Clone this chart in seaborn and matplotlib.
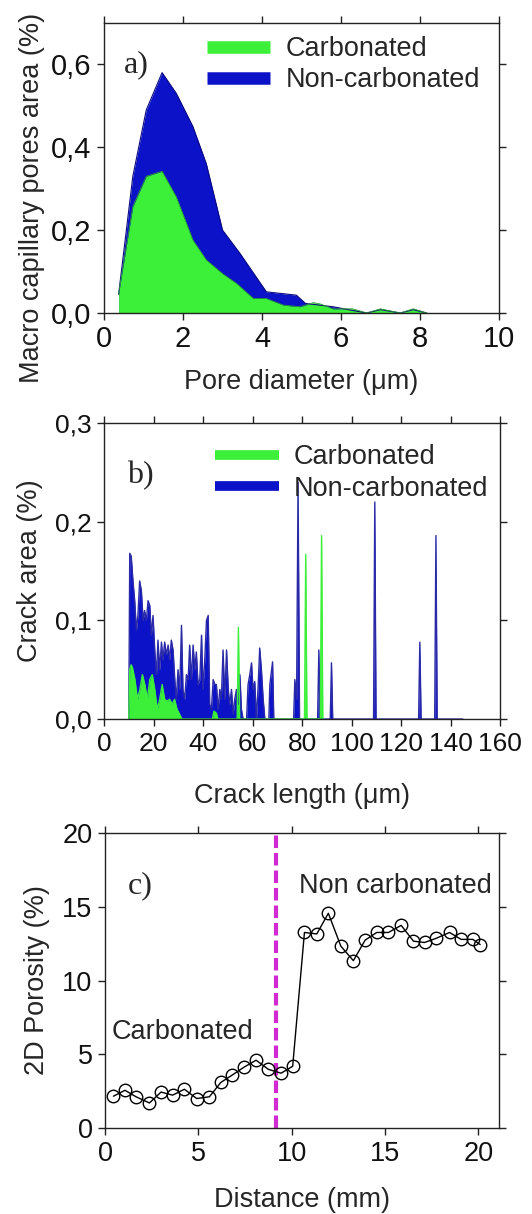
import matplotlib
matplotlib.use("Agg")
import matplotlib.pyplot as plt
from matplotlib.lines import Line2D
import pandas as pd
import seaborn as sns

# ---------------- a) macro capillary pore size distribution ----------------
pore_d_nc = [0.37, 0.73, 1.07, 1.47, 1.83, 2.25, 2.59, 3.00, 3.44, 4.11, 4.87,
             5.10, 5.80, 6.30, 6.65, 7.00, 7.50, 7.83, 8.17]
pore_area_nc = [0.045, 0.330, 0.490, 0.580, 0.530, 0.450, 0.360, 0.200, 0.144,
                0.051, 0.043, 0.023, 0.015, 0.006, 0.000, 0.008, 0.000, 0.008, 0.000]
pore_d_c = [0.37, 0.73, 1.07, 1.47, 1.83, 2.25, 2.59, 3.00, 3.36, 3.78, 4.11,
            4.54, 4.96, 5.30, 5.47, 5.80, 6.30, 6.65, 7.00, 7.50, 7.83, 8.17]
pore_area_c = [0.047, 0.257, 0.330, 0.342, 0.280, 0.176, 0.128, 0.095, 0.071,
               0.035, 0.035, 0.019, 0.015, 0.025, 0.022, 0.010, 0.010, 0.000,
               0.010, 0.000, 0.010, 0.000]

# ---------------- b) crack length distribution ----------------
crack_len_nc = [10.0, 10.4, 11.0, 11.7, 12.4, 13.1, 13.7, 14.4, 15.1, 15.8, 16.4,
                17.1, 17.8, 18.5, 19.1, 19.8, 20.5, 21.2, 21.8, 22.5, 23.2, 23.8,
                24.5, 25.2, 25.9, 26.5, 27.2, 27.9, 28.6, 29.2, 29.9, 30.6, 31.3,
                31.9, 32.6, 33.3, 34.0, 34.6, 35.3, 36.0, 36.7, 37.3, 38.0, 38.7,
                39.4, 40.0, 40.7, 41.4, 42.1, 42.7, 43.4, 44.1, 44.8, 45.4, 46.1,
                46.8, 47.4, 48.1, 48.8, 49.5, 50.2, 50.8, 51.5, 52.2, 52.8, 53.5,
                54.2, 54.9, 55.5, 56.2, 57.6, 58.2, 58.9, 59.6, 60.2, 60.9, 61.6,
                62.3, 62.9, 63.6, 64.3, 65.0, 66.6, 67.0, 68.1, 68.6, 76.6, 77.1,
                77.8, 78.4, 79.0, 86.3, 86.8, 87.3, 91.4, 91.9, 92.4, 108.9, 109.4,
                109.9, 127.1, 127.6, 128.1, 133.6, 134.1, 134.6, 145.0]
crack_area_nc = [0.000, 0.168, 0.165, 0.140, 0.120, 0.090, 0.105, 0.140, 0.130,
                 0.100, 0.110, 0.100, 0.120, 0.115, 0.085, 0.105, 0.070, 0.045,
                 0.080, 0.050, 0.078, 0.060, 0.078, 0.065, 0.075, 0.060, 0.080,
                 0.070, 0.040, 0.020, 0.050, 0.030, 0.095, 0.030, 0.020, 0.045,
                 0.040, 0.075, 0.040, 0.075, 0.050, 0.068, 0.035, 0.040, 0.085,
                 0.030, 0.060, 0.100, 0.105, 0.015, 0.010, 0.040, 0.035, 0.035,
                 0.010, 0.030, 0.020, 0.070, 0.020, 0.070, 0.030, 0.015, 0.030,
                 0.005, 0.020, 0.030, 0.015, 0.045, 0.010, 0.000, 0.000, 0.035,
                 0.045, 0.057, 0.030, 0.038, 0.000, 0.035, 0.072, 0.050, 0.020,
                 0.000, 0.000, 0.035, 0.058, 0.000, 0.000, 0.040, 0.020, 0.240,
                 0.000, 0.000, 0.070, 0.000, 0.000, 0.057, 0.000, 0.000, 0.220,
                 0.000, 0.000, 0.078, 0.000, 0.000, 0.186, 0.000, 0.000]
crack_len_c = [10.0, 10.4, 11.0, 11.5, 12.5, 13.5, 14.5, 15.5, 16.5, 17.5, 18.5,
               19.5, 20.5, 21.5, 22.5, 23.5, 24.5, 25.5, 26.5, 27.5, 28.5, 29.5,
               30.5, 31.5, 43.8, 44.4, 45.4, 46.0, 53.8, 54.3, 54.8, 81.0, 81.5,
               82.0, 87.4, 87.9, 88.4]
crack_area_c = [0.000, 0.050, 0.055, 0.052, 0.040, 0.020, 0.030, 0.045, 0.035,
                0.020, 0.040, 0.045, 0.030, 0.010, 0.020, 0.035, 0.020, 0.018,
                0.020, 0.015, 0.020, 0.010, 0.005, 0.000, 0.000, 0.008, 0.006,
                0.000, 0.000, 0.093, 0.000, 0.000, 0.167, 0.000, 0.000, 0.186,
                0.000]

# ---------------- c) 2D porosity profile ----------------
distance_mm = [0.45, 1.07, 1.66, 2.38, 3.00, 3.62, 4.25, 4.91, 5.59, 6.20, 6.82,
               7.46, 8.09, 8.75, 9.43, 10.05, 10.68, 11.34, 11.96, 12.63, 13.30,
               13.93, 14.55, 15.18, 15.86, 16.52, 17.11, 17.73, 18.45, 19.07,
               19.70, 20.09]
porosity_pct = [2.16, 2.56, 2.12, 1.70, 2.44, 2.23, 2.63, 2.00, 2.12, 3.09, 3.60,
                4.14, 4.60, 3.98, 3.72, 4.19, 13.26, 13.16, 14.56, 12.33, 11.35,
                12.74, 13.26, 13.26, 13.74, 12.67, 12.58, 12.86, 13.26, 12.79,
                12.79, 12.44]
carbonation_front_mm = 9.16

series_labels = ["Carbonated", "Non-carbonated"]
GREEN = "#3cf03a"
BLUE = "#0c12c8"

sns.set_theme(style="ticks")
plt.rcParams["font.family"] = ["Liberation Sans", "DejaVu Sans"]
plt.rcParams["axes.edgecolor"] = "#222222"
plt.rcParams["axes.linewidth"] = 1.0
plt.rcParams["xtick.color"] = "#222222"
plt.rcParams["ytick.color"] = "#222222"
plt.rcParams["xtick.labelcolor"] = "#111111"
plt.rcParams["ytick.labelcolor"] = "#111111"

fig = plt.figure(figsize=(5.32, 12.14), dpi=100)
ax_a = fig.add_axes([0.1955, 0.7422, 0.7425, 0.2389])
ax_b = fig.add_axes([0.1955, 0.4077, 0.7444, 0.2438])
ax_c = fig.add_axes([0.1974, 0.0708, 0.7406, 0.2430])

SERIF = ["Liberation Serif", "DejaVu Serif"]


def style_axes(ax, tick_size):
    ax.tick_params(axis="both", which="major", direction="out", length=5,
                   width=1, labelsize=tick_size, top=True, right=True, pad=4)
    for s in ax.spines.values():
        s.set_visible(True)


def comma(values, fmt):
    return [fmt.format(v).replace(".", ",") for v in values]


# ---- panel a ----
df_a_nc = pd.DataFrame({"d": pore_d_nc, "area": pore_area_nc})
df_a_c = pd.DataFrame({"d": pore_d_c, "area": pore_area_c})
ax_a.fill_between(df_a_nc["d"], 0, df_a_nc["area"], color=BLUE, lw=0)
sns.lineplot(data=df_a_nc, x="d", y="area", ax=ax_a, color="#0a0a80", lw=0.8,
             sort=False)
ax_a.fill_between(df_a_c["d"], 0, df_a_c["area"], color=GREEN, lw=0)
sns.lineplot(data=df_a_c, x="d", y="area", ax=ax_a, color="#2a9a30", lw=0.6,
             sort=False)
ax_a.set_xlim(0, 10)
ax_a.set_ylim(0, 0.7)
ax_a.set_xticks([0, 2, 4, 6, 8, 10])
yt_a = [0.0, 0.2, 0.4, 0.6]
ax_a.set_yticks(yt_a)
ax_a.set_yticklabels(comma(yt_a, "{:.1f}"))
style_axes(ax_a, 21)
ax_a.set_xlabel("Pore diameter (μm)", fontsize=19.5, labelpad=11)
ax_a.set_ylabel("Macro capillary pores area (%)", fontsize=19.5)
ax_a.yaxis.set_label_coords(-0.15, 0.395)
ax_a.text(0.5, 0.6, "a)", fontsize=23, family=SERIF, va="center", ha="left")
handles_a = [Line2D([], [], color=GREEN, lw=9, solid_capstyle="butt"),
             Line2D([], [], color=BLUE, lw=9, solid_capstyle="butt")]
ax_a.legend(handles_a, series_labels, loc="upper left",
            bbox_to_anchor=(0.26, 0.955), frameon=False, fontsize=19.5,
            handlelength=2.35, handletextpad=0.55, labelspacing=0.2,
            borderpad=0, borderaxespad=0)

# ---- panel b ----
df_b_nc = pd.DataFrame({"len": crack_len_nc, "area": crack_area_nc})
df_b_c = pd.DataFrame({"len": crack_len_c, "area": crack_area_c})
ax_b.fill_between(df_b_nc["len"], 0, df_b_nc["area"], color=BLUE, lw=0)
sns.lineplot(data=df_b_nc, x="len", y="area", ax=ax_b, color="#2a2aa8", lw=1.0,
             sort=False)
ax_b.fill_between(df_b_c["len"], 0, df_b_c["area"], color=GREEN, lw=0)
sns.lineplot(data=df_b_c, x="len", y="area", ax=ax_b, color=GREEN, lw=1.0,
             sort=False)
ax_b.set_xlim(0, 160)
ax_b.set_ylim(0, 0.3)
ax_b.set_xticks(list(range(0, 161, 20)))
yt_b = [0.0, 0.1, 0.2, 0.3]
ax_b.set_yticks(yt_b)
ax_b.set_yticklabels(comma(yt_b, "{:.1f}"))
style_axes(ax_b, 19)
ax_b.set_xlabel("Crack length (μm)", fontsize=19.5, labelpad=20)
ax_b.set_ylabel("Crack area (%)", fontsize=19.5)
ax_b.yaxis.set_label_coords(-0.154, 0.5)
ax_b.text(9.3, 0.247, "b)", fontsize=23, family=SERIF, va="center", ha="left")
handles_b = [Line2D([], [], color=GREEN, lw=7, solid_capstyle="butt"),
             Line2D([], [], color=BLUE, lw=7, solid_capstyle="butt")]
ax_b.legend(handles_b, series_labels, loc="upper left",
            bbox_to_anchor=(0.28, 0.928), frameon=False, fontsize=19.5,
            handlelength=2.35, handletextpad=0.55, labelspacing=0.2,
            borderpad=0, borderaxespad=0)

# ---- panel c ----
df_c = pd.DataFrame({"dist": distance_mm, "por": porosity_pct})
ax_c.axvline(carbonation_front_mm, color="#d22ad2", lw=3.0, ls=(0, (3.0, 1.2)),
             zorder=1)
sns.lineplot(data=df_c, x="dist", y="por", ax=ax_c, color="black", lw=1.0,
             marker="o", markersize=9, markerfacecolor="none",
             markeredgecolor="black", markeredgewidth=1.0, sort=False, zorder=3)
ax_c.set_xlim(0, 21.1)
ax_c.set_ylim(0, 20)
ax_c.set_xticks([0, 5, 10, 15, 20])
ax_c.set_yticks([0, 5, 10, 15, 20])
style_axes(ax_c, 19.5)
ax_c.set_xlabel("Distance (mm)", fontsize=19.5, labelpad=15)
ax_c.set_ylabel("2D Porosity (%)", fontsize=19.5)
ax_c.yaxis.set_label_coords(-0.14, 0.5)
ax_c.text(1.23, 16.4, "c)", fontsize=23, family=SERIF, va="center", ha="left")
ax_c.text(10.4, 16.4, "Non carbonated", fontsize=19.5, va="center", ha="left")
ax_c.text(0.37, 6.5, "Carbonated", fontsize=19.5, va="center", ha="left")

fig.savefig("out.png", dpi=100)
